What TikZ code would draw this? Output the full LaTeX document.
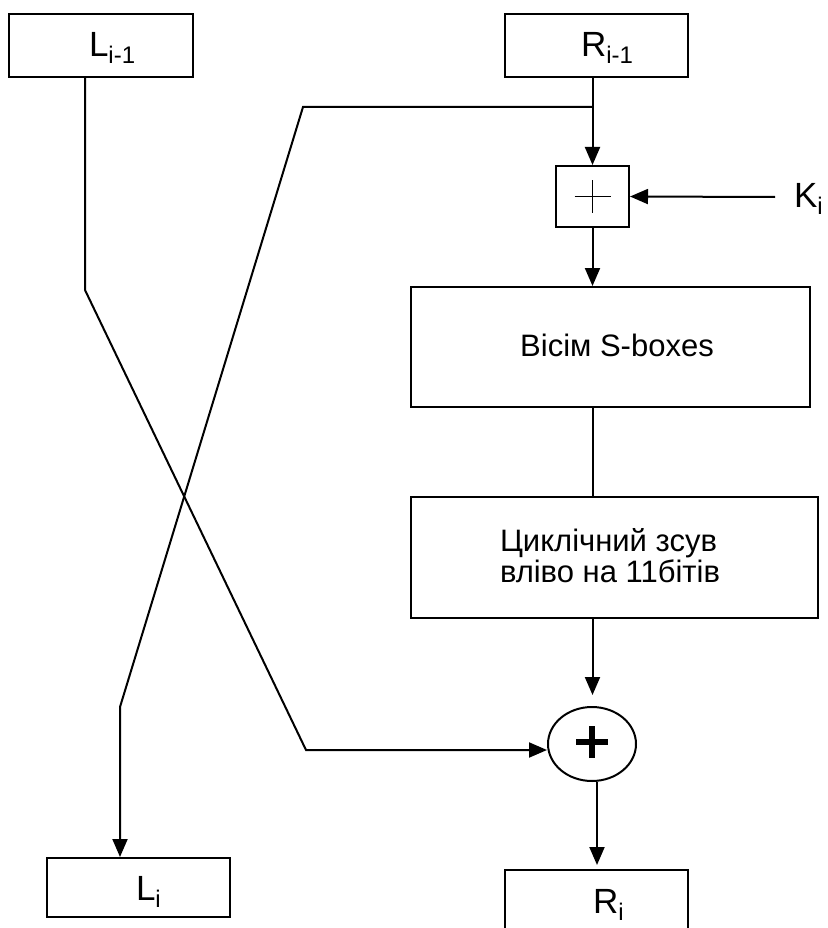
\documentclass[tikz,border=0pt]{standalone}
\usepackage{fontspec}
\setmainfont{Liberation Sans}
\usetikzlibrary{arrows.meta,shapes.geometric}
\newcommand\sbs[1]{\raisebox{-7pt}{\fontsize{24}{24}\selectfont #1}}
\begin{document}
\begin{tikzpicture}[x=1pt,y=-1pt,
  line width=2pt,
  box/.style={draw,rectangle,inner sep=0pt},
  lbl/.style={inner sep=0pt,anchor=base west,font=\fontsize{35}{35}\selectfont},
  txt/.style={inner sep=0pt,font=\fontsize{31}{26}\selectfont},
  arr/.style={-{Triangle[length=18pt,width=15pt]}}]
\useasboundingbox (0,0) rectangle (827,928);
% boxes
\node[box,minimum width=184pt,minimum height=63pt] (Lprev) at (101,45.5) {};
\node[box,minimum width=183pt,minimum height=63pt] (Rprev) at (596.5,45.5) {};
\node[box,minimum width=73pt,minimum height=61pt] (xorbox) at (592.5,196.5) {};
\node[box,minimum width=399pt,minimum height=120pt] (sbox) at (610.5,347) {};
\node[box,minimum width=407pt,minimum height=121pt] (shift) at (614.5,557.5) {};
\node[box,minimum width=183pt,minimum height=59pt] (Li) at (138.5,887.5) {};
\node[box,minimum width=183pt,minimum height=59pt] (Ri) at (596.5,899.5) {};
\node[draw,ellipse,minimum width=88pt,minimum height=74pt,inner sep=0pt] (xor2) at (592,744) {};
% labels
\node[lbl] (tLprev) at (88,57) {L\sbs{i-1}};
\node[lbl] (tRprev) at (580,57) {R\sbs{i-1}};
\node[lbl] (tK) at (793,207) {K\sbs{i}};
\node[lbl] (tLi) at (135,900) {L\sbs{i}};
\node[lbl] (tRi) at (592,913) {R\sbs{i}};
\node[txt,anchor=base] (tsbox) at (617,356) {Вісім S-boxes};
\node[txt,anchor=base west,align=left] (tshift) at (499,582) {Циклічний зсув\\ вліво на 11бітів};
% plus signs
\draw[line width=1.5pt] ([xshift=-18pt]xorbox.center) -- ([xshift=18pt]xorbox.center);
\draw[line width=1.5pt] ([yshift=-16pt]xorbox.center) -- ([yshift=16pt]xorbox.center);
\draw[line width=6.5pt] ([xshift=-16pt,yshift=2pt]xor2.center) -- ([xshift=16pt,yshift=2pt]xor2.center);
\draw[line width=6.5pt] ([yshift=-14pt]xor2.center) -- ([yshift=18pt]xor2.center);
% coordinates
\coordinate (br) at (593,107);
\coordinate (b1) at (303,107);
\coordinate (b2) at (120,707);
\coordinate (a0) at (85,77);
\coordinate (a1) at (85,290);
\coordinate (a2) at (306,750);
\coordinate (kin) at (775,197);
% connectors
\draw[arr] (xorbox.north |- Rprev.south) -- (xorbox.north);
\draw[arr] (br) -- (b1) -- (b2) -- (b2 |- Li.north);
\draw[arr] (kin) -- (xorbox.east);
\draw[arr] (xorbox.south) -- (xorbox.south |- sbox.north);
\draw (xorbox.south |- sbox.south) -- (xorbox.south |- shift.north);
\draw[arr,shorten >=11pt] (xorbox.south |- shift.south) -- (xorbox.south |- xor2.north);
\draw[arr] (a0 |- Lprev.south) -- (a1) -- (a2) -- (a2 -| xor2.west);
\draw[arr,shorten >=4pt] ([xshift=5pt]xor2.south) -- ([xshift=5pt]xor2.south |- Ri.north);
\end{tikzpicture}
\end{document}
